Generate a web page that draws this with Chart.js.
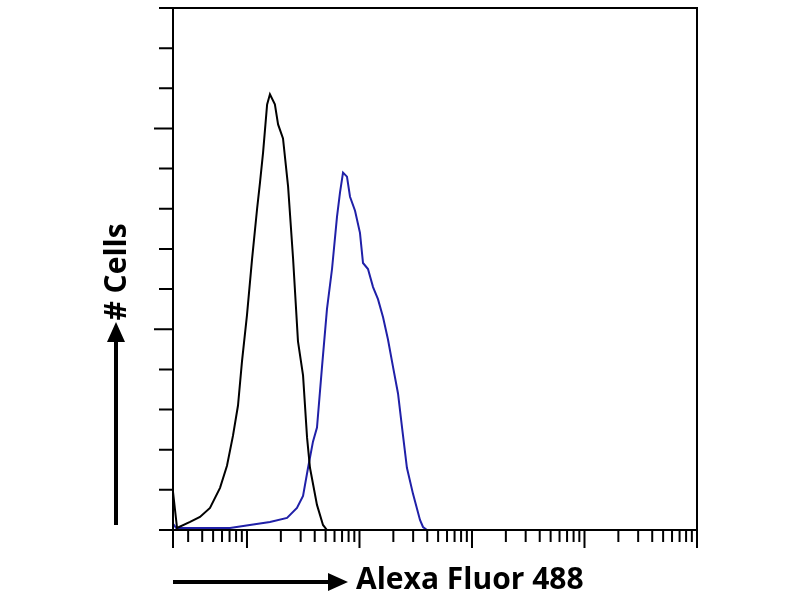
<!DOCTYPE html>
<html>
<head>
<meta charset="utf-8">
<script src="https://cdn.jsdelivr.net/npm/chart.js@4.4.0/dist/chart.umd.min.js"></script>
<style>
  html, body { margin: 0; padding: 0; background: #fff; }
  #wrap { width: 800px; height: 600px; position: relative; }
</style>
</head>
<body>
<div id="wrap"><canvas id="histo"></canvas></div>
<script>
// isotype control (black)
const controlX = [2.2, 2.39, 3.12, 3.82, 4.69, 5.76, 6.64, 7.51, 8.32, 9.03, 10.0, 11.1, 12.3, 13.05, 13.9, 15.1, 16.0, 17.7, 18.9, 20.9, 23.2, 25.7, 28.4, 31.5, 34.2, 36.3, 41.9, 47.4, 51.4, 100000];
const controlY = [19, 1, 4, 6.5, 11, 21, 32, 47, 62, 84, 107, 135, 160, 173, 188, 212, 217, 212, 202, 195, 171, 135, 94, 77, 46, 31, 12.5, 2.5, 0, 0];

// stained sample (blue)
const sampleX = [2.2, 2.35, 7.07, 10.6, 16.0, 22.7, 27.8, 31.5, 34.9, 38.6, 41.9, 46.4, 51.4, 57.0, 63.1, 67.1, 71.4, 77.4, 82.4, 91.3, 101, 107.5, 119, 132, 146, 162, 179, 199, 220, 239, 264, 299, 345, 367, 398, 100000];
const sampleY = [3, 1, 1, 2.5, 4, 6, 11, 17, 31, 44, 51, 81, 110, 130, 156, 168, 178, 176, 166, 159, 148, 133, 130, 121, 115, 106, 95, 81, 68, 51, 31, 18, 5, 1.5, 0, 0];

const xMajorTicks = [2.2, 10, 100, 1000, 10000, 100000];
const xMinorTicks = [3, 4, 5, 6, 7, 8, 9,
  20, 30, 40, 50, 60, 70, 80, 90,
  200, 300, 400, 500, 600, 700, 800, 900,
  2000, 3000, 4000, 5000, 6000, 7000, 8000, 9000,
  20000, 30000, 40000, 50000, 60000, 70000, 80000, 90000];
const yMajorTicks = [100, 200];
const yMinorTicks = [0, 20, 40, 60, 80, 120, 140, 160, 180, 220, 240, 260];

const xTitle = 'Alexa Fluor 488';
const yTitle = '# Cells';

function toPoints(xs, ys) {
  return xs.map((x, i) => ({ x: x, y: ys[i] }));
}

// frame, tick marks, axis titles and arrows
const flowAxes = {
  id: 'flowAxes',
  afterDatasetsDraw(chart) {
    const ctx = chart.ctx;
    const { left, right, top, bottom } = chart.chartArea;
    const xs = chart.scales.x;
    const ys = chart.scales.y;
    ctx.save();
    ctx.strokeStyle = '#000';
    ctx.lineWidth = 2;
    ctx.lineCap = 'butt';
    ctx.strokeRect(left, top, right - left, bottom - top);

    ctx.beginPath();
    xMajorTicks.forEach(v => {
      const px = xs.getPixelForValue(v);
      ctx.moveTo(px, bottom); ctx.lineTo(px, bottom + 18);
    });
    xMinorTicks.forEach(v => {
      const px = xs.getPixelForValue(v);
      ctx.moveTo(px, bottom); ctx.lineTo(px, bottom + 12);
    });
    yMajorTicks.forEach(v => {
      const py = ys.getPixelForValue(v);
      ctx.moveTo(left, py); ctx.lineTo(left - 19, py);
    });
    yMinorTicks.forEach(v => {
      const py = ys.getPixelForValue(v);
      ctx.moveTo(left, py); ctx.lineTo(left - 14, py);
    });
    ctx.stroke();

    // arrows
    ctx.fillStyle = '#000';
    ctx.lineWidth = 4;
    ctx.beginPath();
    ctx.moveTo(116, 525); ctx.lineTo(116, 336);
    ctx.moveTo(173, 582); ctx.lineTo(332, 582);
    ctx.stroke();
    ctx.beginPath();
    ctx.moveTo(116, 322); ctx.lineTo(107, 342); ctx.lineTo(125, 342); ctx.closePath();
    ctx.moveTo(348, 582); ctx.lineTo(328, 573); ctx.lineTo(328, 591); ctx.closePath();
    ctx.fill();

    // titles
    ctx.font = 'bold 30px "Open Sans", "Noto Sans", sans-serif';
    ctx.textBaseline = 'middle';
    ctx.textAlign = 'left';
    ctx.fillText(xTitle, 356, 580);
    ctx.translate(117, 272);
    ctx.rotate(-Math.PI / 2);
    ctx.textAlign = 'center';
    ctx.fillText(yTitle, 0, 0);
    ctx.restore();
  }
};

new Chart(document.getElementById('histo'), {
  type: 'line',
  data: {
    datasets: [
      {
        label: 'Isotype control',
        data: toPoints(controlX, controlY),
        borderColor: '#000000',
        borderWidth: 2,
        pointRadius: 0,
        tension: 0,
        fill: false
      },
      {
        label: 'Stained',
        data: toPoints(sampleX, sampleY),
        borderColor: '#2020a8',
        borderWidth: 2,
        pointRadius: 0,
        tension: 0,
        fill: false
      }
    ]
  },
  options: {
    responsive: true,
    maintainAspectRatio: false,
    animation: false,
    layout: { padding: { left: 173, right: 103, top: 8, bottom: 70 } },
    plugins: { legend: { display: false }, tooltip: { enabled: false } },
    scales: {
      x: { type: 'logarithmic', min: 2.2, max: 100000, display: false },
      y: { type: 'linear', min: 0, max: 260, display: false }
    }
  },
  plugins: [flowAxes]
});
</script>
</body>
</html>
